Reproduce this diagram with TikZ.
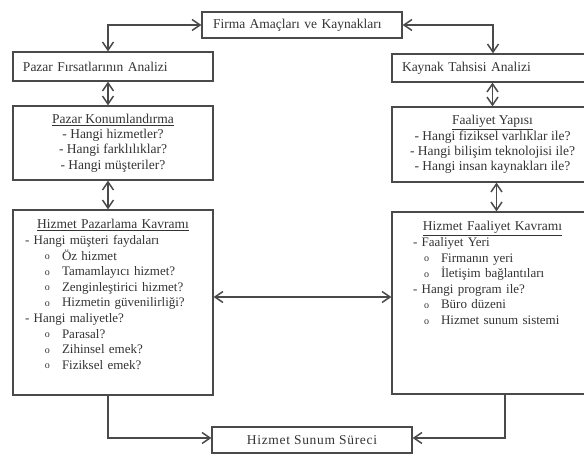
\documentclass[tikz,border=0pt]{standalone}
\usepackage{fontspec}
\setmainfont{Liberation Serif}
\usetikzlibrary{arrows.meta, positioning}

\definecolor{boxline}{HTML}{4A4A4A}
\definecolor{inkgray}{HTML}{333333}

% underlined box titles
\newcommand{\ulbox}[1]{\vtop{\hbox{#1}\kern1.2pt\hrule height 0.9pt}}
\newcommand{\bigfont}{\fontsize{13.5pt}{15.3pt}\selectfont}
% list lines of the two big boxes
\newcommand{\dashline}[2][12pt]{\hspace*{#1}- #2}
\newcommand{\bulline}[1]{\hspace*{32pt}\makebox[17pt][l]{\raisebox{.5pt}{\fontsize{10pt}{10pt}\selectfont o}}#1}

\begin{document}
\begin{tikzpicture}[x=1pt, y=-1pt,
  >={Straight Barb[length=8pt,width=11pt]},
  box/.style={draw=boxline, line width=1.3pt, inner sep=0pt, text=inkgray, font=\bigfont},
  leftbox/.style={box, align=left, inner xsep=10pt}, % text starts near the left edge
  listtext/.style={inner sep=0pt, text=inkgray, align=left,
    font=\fontsize{13pt}{15.6pt}\selectfont},
  both/.style={draw=boxline, line width=1.5pt, <->},
  one/.style={draw=boxline, line width=1.5pt, ->}]

  \useasboundingbox (0,0) rectangle (584,457);

  \node[leftbox, text width=178pt, inner xsep=11pt, minimum height=26pt] (top) at (302,25) {Firma Amaçları ve Kaynakları};
  \node[leftbox, text width=180pt, minimum height=29pt] (pfa) at (113,66.5) {Pazar Fırsatlarının Analizi};
  \node[leftbox, text width=181pt, minimum height=28pt] (kta) at (492.5,68) {Kaynak Tahsisi Analizi};

  \node[box, minimum width=200pt, minimum height=74pt, align=center] (pk) at (113,143)
    {\ulbox{Pazar Konumlandırma}\\ - Hangi hizmetler?\\ - Hangi farklılıklar?\\ - Hangi müşteriler?};
  \node[box, minimum width=201pt, minimum height=75pt, align=center] (fy) at (492.5,144.5)
    {\ulbox{Faaliyet Yapısı}\\ - Hangi fiziksel varlıklar ile?\\ - Hangi bilişim teknolojisi ile?\\ - Hangi insan kaynakları ile?};

  \node[box, minimum width=200pt, minimum height=185pt] (hpk) at (113,302.5) {};
  \node[box, minimum width=201pt, minimum height=182pt] (hfk) at (492.5,303) {};
  \node[box, minimum width=200pt, minimum height=26pt] (hss) at (312,440)
    {\addfontfeature{LetterSpace=5}Hizmet Sunum Süreci};

  % texts of the two big boxes, hung from their top edges
  \node[listtext, text width=200pt, anchor=north] (hpktext) at ([yshift=-10pt]hpk.north) {%
    \makebox[\linewidth]{\bigfont\ulbox{Hizmet Pazarlama Kavramı}}\\
    \dashline{Hangi müşteri faydaları}\\
    \bulline{Öz hizmet}\\
    \bulline{Tamamlayıcı hizmet?}\\
    \bulline{Zenginleştirici hizmet?}\\
    \bulline{Hizmetin güvenilirliği?}\\
    \dashline{Hangi maliyetle?}\\
    \bulline{Parasal?}\\
    \bulline{Zihinsel emek?}\\
    \bulline{Fiziksel emek?}};
  \node[listtext, text width=201pt, anchor=north] (hfktext) at ([yshift=-10pt]hfk.north) {%
    \makebox[\linewidth]{\bigfont\ulbox{Hizmet Faaliyet Kavramı}}\\
    \dashline[21pt]{Faaliyet Yeri}\\
    \bulline{Firmanın yeri}\\
    \bulline{İletişim bağlantıları}\\
    \dashline[21pt]{Hangi program ile?}\\
    \bulline{Büro düzeni}\\
    \bulline{Hizmet sunum sistemi}};

  % connectors
  \draw[both] (top.west) -| ([xshift=-5pt]pfa.north);
  \draw[both] (top.east) -| ([xshift=0.5pt]kta.north);
  \draw[both] ([xshift=-5pt]pfa.south) -- ([xshift=-5pt]pk.north);
  \draw[both] (kta.south) -- (fy.north);
  \draw[both] ([xshift=-5pt]pk.south) -- ([xshift=-5pt]hpk.north);
  \draw[both] ([xshift=4pt]fy.south) -- ([xshift=4pt]hfk.north);
  \draw[both] ([yshift=5.5pt]hpk.east) -- ([yshift=5.5pt]hpk.east -| hfk.west);
  \draw[one] ([xshift=-5pt]hpk.south) |- ([yshift=2pt]hss.west);
  \draw[one] ([xshift=12.5pt]hfk.south) |- ([yshift=2pt]hss.east);
\end{tikzpicture}
\end{document}
